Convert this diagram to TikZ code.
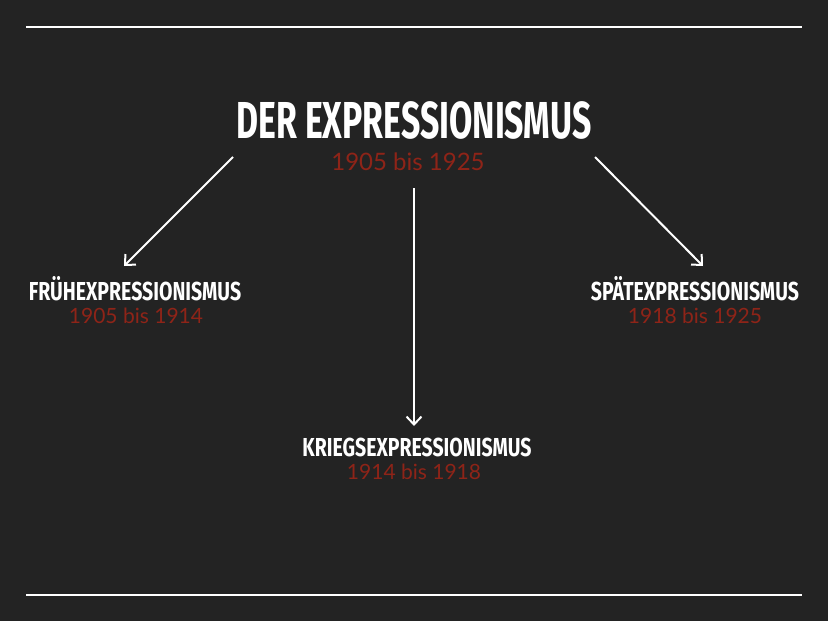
\documentclass[tikz,border=0pt]{standalone}
\usepackage{fontspec}
\usetikzlibrary{arrows.meta}
\setmainfont{Lato}
\newfontfamily\headfont[FakeStretch=0.65]{Fira Sans}
\newfontfamily\subfont[FakeStretch=0.75]{Fira Sans}
\definecolor{bg}{HTML}{232323}
\definecolor{jahr}{HTML}{8E2418}
\begin{document}
\begin{tikzpicture}[x=1pt,y=-1pt,
  titel/.style={text=white,font=\headfont\bfseries\fontsize{52}{52}\selectfont,inner sep=0pt},
  epoche/.style={text=white,font=\subfont\bfseries\fontsize{26}{26}\selectfont,inner sep=0pt},
  zeit/.style={text=jahr,font=\fontsize{#1}{#1}\selectfont,inner sep=0pt},
  pfeil/.style={-{Straight Barb[length=8pt,width=15pt,line width=2pt]},white,line width=2pt}]
\fill[bg](0,0)rectangle(828,621);
\useasboundingbox(0,0)rectangle(828,621);
\draw[white,line width=2.2pt](26,27)--(802,27);
\draw[white,line width=2.2pt](26,595)--(802,595);
\node[titel](haupt)at(414,120){DER EXPRESSIONISMUS};
\node[zeit=24](hauptzeit)at(408,162){1905 bis 1925};
\node[epoche](frueh)at(135,289){FRÜHEXPRESSIONISMUS};
\node[zeit=21](fruehzeit)at(136,316){1905 bis 1914};
\node[epoche](spaet)at(695,289){SPÄTEXPRESSIONISMUS};
\node[zeit=21](spaetzeit)at(695,316){1918 bis 1925};
\node[epoche](krieg)at(417,447){KRIEGSEXPRESSIONISMUS};
\node[zeit=21](kriegzeit)at(414,472){1914 bis 1918};
\coordinate(links)at(233,157);
\coordinate(rechts)at(595,157);
\coordinate(mitte)at(414,188);
\coordinate(linksend)at(124,266);
\coordinate(rechtsend)at(703,266);
\coordinate(mitteend)at(414,426);
\draw[pfeil](links)--(linksend);
\draw[pfeil](mitte)--(mitteend);
\draw[pfeil](rechts)--(rechtsend);
\end{tikzpicture}
\end{document}
